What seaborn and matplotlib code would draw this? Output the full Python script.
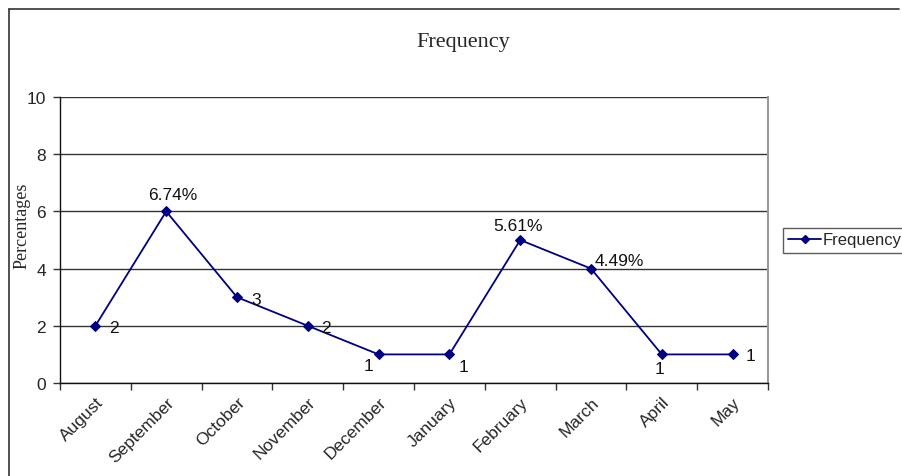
import matplotlib
matplotlib.use("Agg")
import matplotlib.pyplot as plt
from matplotlib.lines import Line2D
import seaborn as sns
import pandas as pd

months = ["August", "September", "October", "November", "December",
          "January", "February", "March", "April", "May"]
frequency = [2, 6, 3, 2, 1, 1, 5, 4, 1, 1]
point_labels = ["2", "6.74%", "3", "2", "1", "1", "5.61%", "4.49%", "1", "1"]
y_ticks = [0, 2, 4, 6, 8, 10]

# label placement (pixel offsets from each point, horizontal alignment)
label_offsets = [(19, -2, "center"), (7, 17, "center"), (19, -2, "center"),
                 (18, -2, "center"), (-10, -11, "center"), (14, -12, "center"),
                 (-2, 14, "center"), (4, 8, "left"), (-2, -14, "center"),
                 (18, -1, "center")]

df = pd.DataFrame({"Month": months, "Frequency": frequency})
df["pos"] = range(len(months))

sns.set_style("white")
plt.rcParams["font.family"] = ["Liberation Sans", "DejaVu Sans"]

fs = 12.5

fig = plt.figure(figsize=(9.03, 4.77), dpi=100)
ax = fig.add_axes([60 / 903, 1 - 384 / 477, 708 / 903, 286 / 477])

line_color = "#000080"
sns.lineplot(data=df, x="pos", y="Frequency", ax=ax, color=line_color,
             marker="D", markersize=5.5, markeredgecolor=line_color,
             linewidth=1.3, label="Frequency", legend=False)

for x, y, lab, (dx, dy, ha) in zip(df["pos"], frequency, point_labels, label_offsets):
    ax.annotate(lab, (x, y), xytext=(dx, dy), textcoords="offset pixels",
                ha=ha, va="center", fontsize=fs, color="#111111")

ax.set_xlim(-0.5, len(months) - 0.5)
ax.set_ylim(0, 10)
ax.set_yticks(y_ticks)
ax.set_yticklabels([str(t) for t in y_ticks], fontsize=fs)
ax.set_xticks([i - 0.5 for i in range(len(months) + 1)])
ax.set_xticklabels([])
ax.set_xticks(range(len(months)), minor=True)
ax.set_xticklabels(months, minor=True, rotation=45, ha="right",
                   rotation_mode="anchor", fontsize=fs)
ax.tick_params(axis="x", which="minor", length=0, pad=8)
ax.tick_params(axis="x", which="major", length=5, width=1, color="#333333",
               direction="out", bottom=True)
ax.tick_params(axis="y", length=5, width=1, color="#333333", direction="out",
               left=True, pad=5)
ax.set_xlabel("")
ax.set_ylabel("")

ax.yaxis.grid(True, color="#333333", linewidth=1)
ax.set_axisbelow(True)
for side in ["left", "bottom"]:
    ax.spines[side].set_color("#111111")
    ax.spines[side].set_linewidth(1)
ax.spines["top"].set_visible(False)
ax.spines["right"].set_color("#999999")
ax.spines["right"].set_linewidth(1.5)

fig.text(463 / 903, 1 - 42 / 477, "Frequency", ha="center", va="center",
         fontsize=16, family=["Liberation Serif", "DejaVu Serif"])
fig.text(22 / 903, 1 - 226 / 477, "Percentages", ha="center", va="center",
         rotation=90, fontsize=13, family=["Liberation Serif", "DejaVu Serif"])

handle = Line2D([], [], color=line_color, marker="D", markersize=4.5,
                linewidth=1.3)
leg = fig.legend([handle], ["Frequency"], loc="center left",
                 bbox_to_anchor=(783 / 903, 1 - 241 / 477), frameon=True,
                 fancybox=False, fontsize=12, handlelength=2.0,
                 handletextpad=0.1, borderpad=0.3, borderaxespad=0)
leg.get_frame().set_edgecolor("#333333")
leg.get_frame().set_linewidth(1)

# outer chart border (left and top edges)
fig.add_artist(Line2D([9.5 / 903, 9.5 / 903], [0, 1 - 10 / 477],
                      transform=fig.transFigure, color="#333333", linewidth=1.2))
fig.add_artist(Line2D([9.5 / 903, 899 / 903], [1 - 10 / 477, 1 - 10 / 477],
                      transform=fig.transFigure, color="#333333", linewidth=1.2))

fig.savefig("out.png", dpi=100)
